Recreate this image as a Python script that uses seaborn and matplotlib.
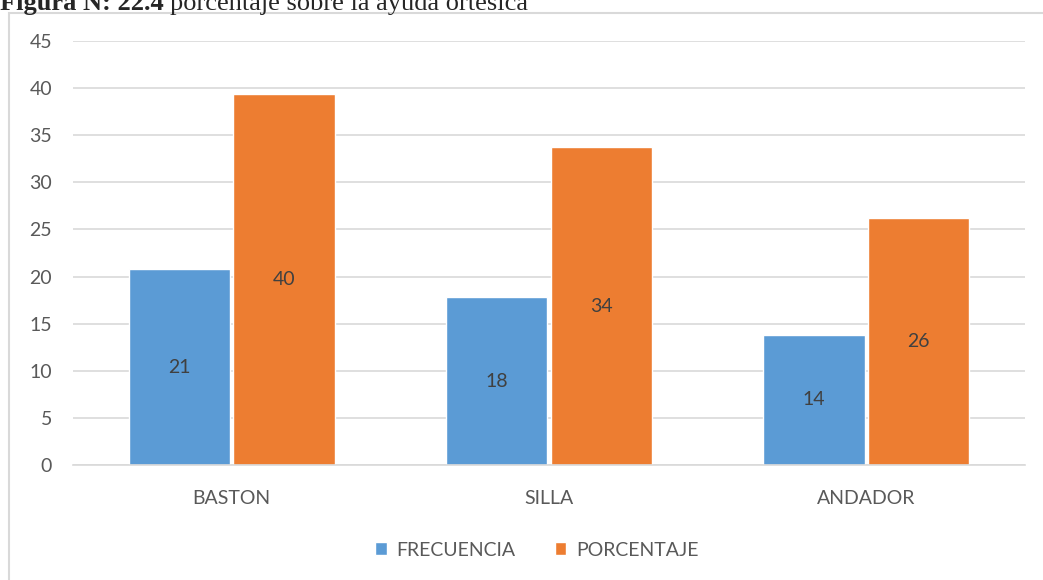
import pandas as pd
import numpy as np
import matplotlib.pyplot as plt
import seaborn as sns
from matplotlib.patches import Rectangle, Patch

# data
categorias = ["BASTON", "SILLA", "ANDADOR"]
frecuencia = [20.8, 17.8, 13.8]
porcentaje = [39.4, 33.7, 26.2]
etiq_frec = ["21", "18", "14"]
etiq_porc = ["40", "34", "26"]
series = ["FRECUENCIA", "PORCENTAJE"]
yticks = [0, 5, 10, 15, 20, 25, 30, 35, 40, 45]

azul = "#5B9BD5"
naranja = "#ED7D31"
gris_txt = "#595959"
gris_lin = "#D9D9D9"

df = pd.DataFrame({
    "cat": categorias * 2,
    "valor": frecuencia + porcentaje,
    "serie": [series[0]] * 3 + [series[1]] * 3,
})

sns.set_style("white")
plt.rcParams["font.family"] = ["Lato", "DejaVu Sans"]

W, H = 1043, 580
fig = plt.figure(figsize=(W / 100, H / 100), dpi=100)
ax = fig.add_axes([73 / W, 1 - 465 / H, (1025 - 73) / W, (465 - 41) / H])

sns.barplot(data=df, x="cat", y="valor", hue="serie", palette=[azul, naranja],
            width=0.66, gap=0.03, saturation=1, ax=ax, legend=False)

etiquetas = [etiq_frec, etiq_porc]
for cont, lab in zip(ax.containers, etiquetas):
    ax.bar_label(cont, labels=lab, label_type="center", color="#404040", fontsize=14)

ax.set_ylim(0, 45)
ax.set_xlim(-0.5, 2.5)
ax.set_yticks(yticks)
ax.set_xlabel("")
ax.set_ylabel("")
ax.yaxis.grid(True, color=gris_lin, lw=1.2)
ax.set_axisbelow(True)
for s in ["left", "right", "top"]:
    ax.spines[s].set_visible(False)
ax.spines["bottom"].set_color(gris_lin)
ax.spines["bottom"].set_linewidth(1.2)

ax.tick_params(axis="y", length=0, pad=15, labelsize=14, labelcolor=gris_txt)
ax.tick_params(axis="x", length=0, pad=18, labelsize=14, labelcolor=gris_txt)
ax.set_xticks([-0.5, 0.5, 1.5, 2.5], minor=True)
ax.tick_params(axis="x", which="minor", length=5, width=1.2, color=gris_lin, direction="out")

handles = [Patch(facecolor=azul, label=series[0]), Patch(facecolor=naranja, label=series[1])]
fig.legend(handles=handles, loc="center", bbox_to_anchor=(537 / W, 30 / H), ncol=2,
           frameon=False, fontsize=14, labelcolor=gris_txt, handlelength=0.6,
           handleheight=0.6, handletextpad=0.5, columnspacing=2.0)

# outer chart frame (only top and left edges fall inside the picture)
fig.add_artist(Rectangle((9 / W, -1), 2, 1 + 1 - 13 / H, transform=fig.transFigure,
                         fill=False, edgecolor=gris_lin, lw=1.5))

# clipped caption at the top
t1 = fig.text(0, 1 - 10 / H, "Figura N: 22.4", fontsize=19, fontweight="bold",
              family="Liberation Serif", va="baseline", ha="left")
fig.canvas.draw()
bb = t1.get_window_extent()
fig.text(bb.x1 / W + 6 / W, 1 - 10 / H, "porcentaje sobre la ayuda ortesica", fontsize=19,
         family="Liberation Serif", va="baseline", ha="left")

fig.savefig("out.png", dpi=100)
